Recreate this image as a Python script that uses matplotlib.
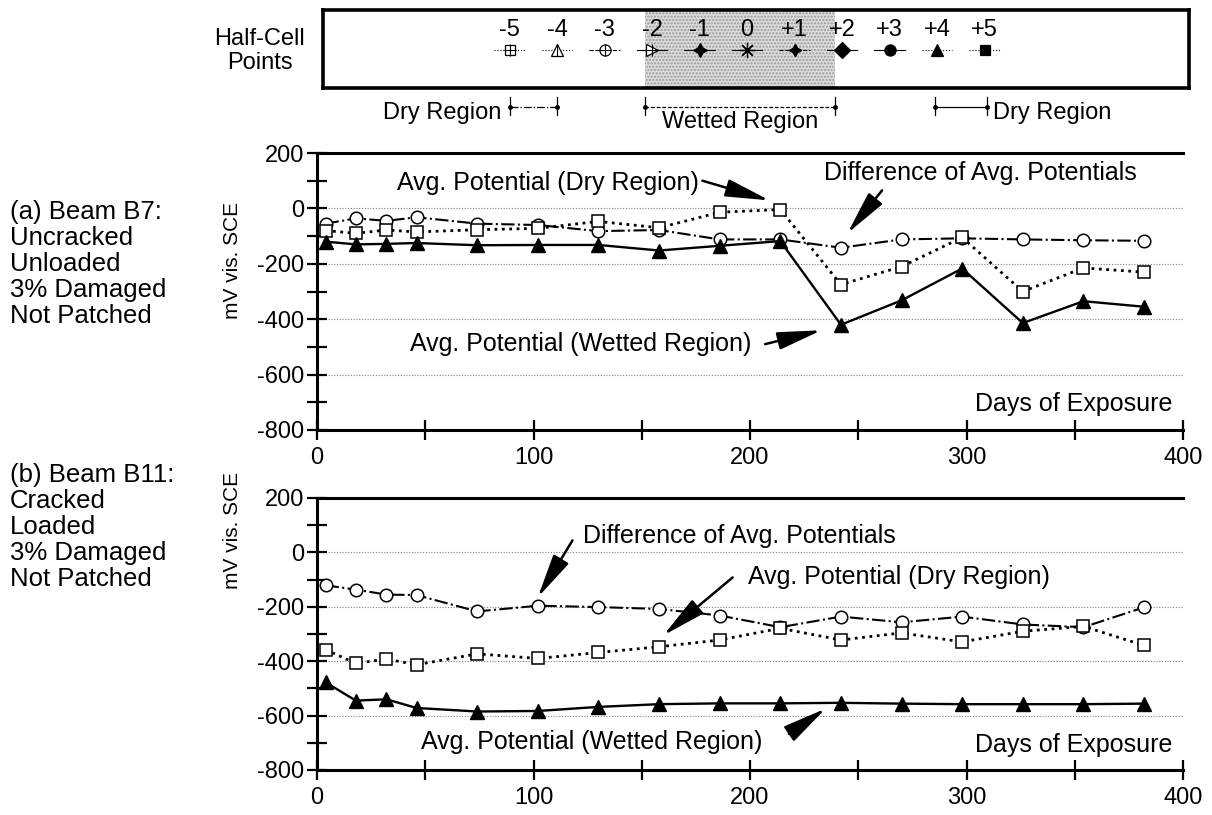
import matplotlib
matplotlib.use('Agg')
import matplotlib.pyplot as plt
from matplotlib.patches import Rectangle

plt.rcParams['font.family'] = ['Liberation Sans', 'DejaVu Sans']
plt.rcParams['axes.unicode_minus'] = False

# ---------------- data ----------------
days = [4, 18, 32, 46, 74, 102, 130, 158, 186, 214, 242, 270, 298, 326, 354, 382]

b7_wetted = [-120, -130, -128, -125, -133, -132, -132, -152, -135, -118, -420, -332, -217, -414, -335, -355]
b7_dry = [-80, -90, -78, -85, -77, -72, -47, -70, -14, -4, -275, -210, -105, -300, -215, -230]
b7_diff = [-55, -36, -45, -32, -55, -60, -82, -78, -112, -112, -142, -112, -108, -112, -115, -117]

b11_wetted = [-478, -545, -540, -572, -585, -583, -568, -558, -555, -555, -553, -556, -558, -558, -558, -556]
b11_dry = [-358, -408, -392, -413, -373, -390, -368, -347, -322, -279, -322, -296, -329, -290, -272, -342]
b11_diff = [-121, -137, -155, -157, -217, -196, -201, -208, -232, -275, -236, -257, -236, -265, -275, -202]

x_ticks = [0, 100, 200, 300, 400]
x_minor = [50, 150, 250, 350]
y_ticks = [-800, -600, -400, -200, 0, 200]
y_minor = [-700, -500, -300, -100, 100]
grid_levels = [0, -200, -400, -600]

half_cell_labels = ['-5', '-4', '-3', '-2', '-1', '0', '+1', '+2', '+3', '+4', '+5']
half_cell_pos = [-5, -4, -3, -2, -1, 0, 1, 2, 3, 4, 5]

panel_a_desc = "(a) Beam B7:\nUncracked\nUnloaded\n3% Damaged\nNot Patched"
panel_b_desc = "(b) Beam B11:\nCracked\nLoaded\n3% Damaged\nNot Patched"

# ---------------- figure ----------------
W, H = 1212, 815
fig = plt.figure(figsize=(W / 100, H / 100), dpi=100)


def fx(px):
    return px / W


def fy(py):
    return 1 - py / H


# ---- legend box of half-cell points ----
unit = 47.5
zero_px = 747
box_l, box_r, box_t, box_b = 323, 1189, 10, 88
axl = fig.add_axes([fx(box_l), fy(box_b), fx(box_r - box_l), (box_b - box_t) / H])
axl.set_xlim(-(zero_px - box_l) / unit, (box_r - zero_px) / unit)
axl.set_ylim(0, 1)
axl.set_xticks([])
axl.set_yticks([])
for s in axl.spines.values():
    s.set_linewidth(2.6)

wet_lo, wet_hi = -2.15, 1.85
axl.add_patch(Rectangle((wet_lo, 0), wet_hi - wet_lo, 1, facecolor='#dadada',
                        edgecolor='#9a9a9a', hatch='.....', linewidth=0, zorder=0))

marker_specs = [
    ('s', 'white', ':', '+'),
    ('^', 'white', ':', '|'),
    ('o', 'white', '--', '+'),
    ('>', 'white', '-', '+'),
    ((4, 1, 0), 'black', '-', None),
    ((8, 2, 0), 'black', '-', None),
    ((4, 1, 0), 'black', '--', None),
    ('D', 'black', '-', None),
    ('o', 'black', '-', None),
    ('^', 'black', ':', None),
    ('s', 'black', ':', None),
]
marker_sizes = [7, 8, 8, 8, 10, 11, 9, 8, 8, 8, 7]
for k, lab, (mk, fc, ls, extra), ms in zip(half_cell_pos, half_cell_labels, marker_specs, marker_sizes):
    axl.text(k, 0.745, lab, ha='center', va='center', fontsize=17)
    axl.plot([k - 0.32, k + 0.32], [0.487, 0.487], ls=ls, lw=0.8, color='k')
    axl.plot([k], [0.487], marker=mk, ms=ms, mfc=fc, mec='k', mew=0.9, ls='none')
    if extra is not None:
        axl.plot([k], [0.487], marker=extra, ms=ms + 1, mec='k', mew=0.8, ls='none')

# brackets below box
yb, yt0, yt1 = -0.244, -0.115, -0.346
brackets = [(-5.0, -4.0, '-.'), (wet_lo, wet_hi, (0, (3, 1.5))), (3.96, 5.05, '-')]
for x0, x1, ls in brackets:
    axl.plot([x0, x1], [yb, yb], ls=ls, lw=0.9, color='k', clip_on=False)
    for xe in (x0, x1):
        axl.plot([xe, xe], [yt0, yt1], lw=0.9, color='k', clip_on=False)
        axl.plot([xe], [yb], marker='o', ms=2.5, color='k', clip_on=False)
axl.text(-5.18, -0.32, 'Dry Region', ha='right', va='center', fontsize=17, clip_on=False)
axl.text((wet_lo + wet_hi) / 2, -0.44, 'Wetted Region', ha='center', va='center',
         fontsize=17, clip_on=False)
axl.text(5.18, -0.32, 'Dry Region', ha='left', va='center', fontsize=17, clip_on=False)

fig.text(fx(260), fy(51), 'Half-Cell\nPoints', ha='center', va='center', fontsize=17,
         linespacing=1.15)


# ---- panels ----
def style(ax):
    ax.set_xlim(0, 400)
    ax.set_ylim(-800, 200)
    ax.spines['right'].set_visible(False)
    for s in ['left', 'bottom', 'top']:
        ax.spines[s].set_linewidth(2.2)
    ax.set_xticks(x_ticks)
    ax.set_xticks(x_minor, minor=True)
    ax.set_yticks(y_ticks)
    ax.set_yticks(y_minor, minor=True)
    ax.tick_params(which='both', direction='inout', length=14, width=1.6, labelsize=17,
                   top=False, right=False)
    ax.tick_params(axis='y', pad=2)
    ax.tick_params(axis='x', pad=5)
    for g in grid_levels:
        ax.axhline(g, color='#808080', lw=0.8, ls=(0, (1, 1.5)), zorder=0)


def plot_series(ax, wet, dry, diff):
    ax.plot(days, diff, ls='-.', lw=1.5, color='k', marker='o', ms=9, mfc='white',
            mec='k', mew=1.1, zorder=3)
    ax.plot(days, dry, ls=':', lw=2.0, color='k', marker='s', ms=9, mfc='white',
            mec='k', mew=1.1, zorder=4)
    ax.plot(days, wet, ls='-', lw=1.7, color='k', marker='^', ms=10, mfc='k',
            mec='k', zorder=5)


def arrow(ax, tail, head):
    ax.annotate('', xy=head, xytext=tail,
                arrowprops=dict(arrowstyle='-|>,head_length=1.5,head_width=0.3',
                                lw=1.8, color='k', mutation_scale=18,
                                shrinkA=0, shrinkB=0))


ax_a = fig.add_axes([fx(317), fy(430), fx(866), 277 / H])
style(ax_a)
plot_series(ax_a, b7_wetted, b7_dry, b7_diff)
ax_a.text(37, 90, 'Avg. Potential (Dry Region)', fontsize=18, ha='left', va='center')
arrow(ax_a, (178, 100), (209, 29))
ax_a.text(234, 126, 'Difference of Avg. Potentials', fontsize=18, ha='left', va='center')
arrow(ax_a, (261, 65), (245, -90))
ax_a.text(43, -490, 'Avg. Potential (Wetted Region)', fontsize=18, ha='left', va='center')
arrow(ax_a, (207, -490), (233, -440))
ax_a.text(395, -707, 'Days of Exposure', fontsize=18, ha='right', va='center')

ax_b = fig.add_axes([fx(317), fy(770), fx(866), 272 / H])
style(ax_b)
plot_series(ax_b, b11_wetted, b11_dry, b11_diff)
ax_b.text(123, 62, 'Difference of Avg. Potentials', fontsize=18, ha='left', va='center')
arrow(ax_b, (118, 44), (102, -165))
ax_b.text(199, -92, 'Avg. Potential (Dry Region)', fontsize=18, ha='left', va='center')
arrow(ax_b, (192, -92), (160, -305))
ax_b.text(48, -696, 'Avg. Potential (Wetted Region)', fontsize=18, ha='left', va='center')
arrow(ax_b, (218, -667), (235, -574))
ax_b.text(395, -707, 'Days of Exposure', fontsize=18, ha='right', va='center')

# y labels and panel descriptions
fig.text(fx(233), fy(260), 'mV vis. SCE', rotation=90, ha='center', va='center', fontsize=15)
fig.text(fx(233), fy(530), 'mV vis. SCE', rotation=90, ha='center', va='center', fontsize=15)
fig.text(fx(10), fy(264), panel_a_desc, ha='left', va='center', fontsize=18.5, linespacing=1.1)
fig.text(fx(10), fy(527), panel_b_desc, ha='left', va='center', fontsize=18.5, linespacing=1.1)

fig.savefig('out.png', dpi=100)
